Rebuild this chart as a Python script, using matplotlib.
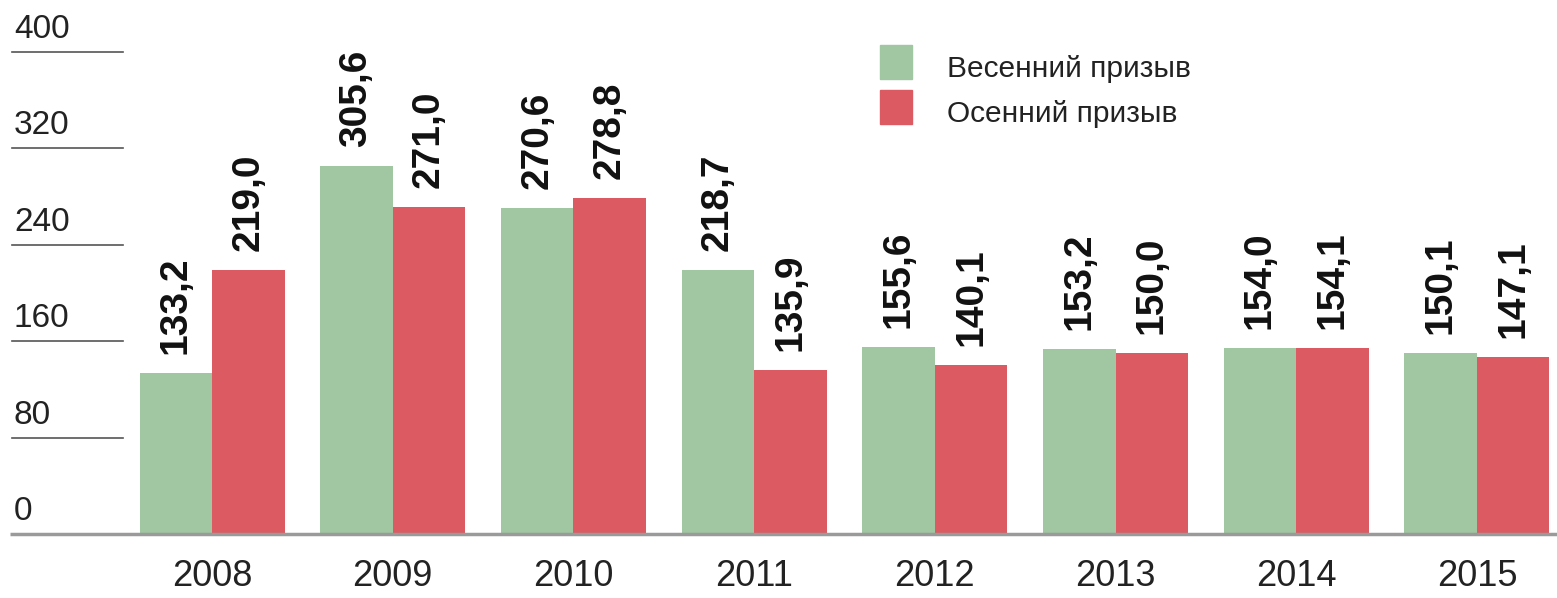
import matplotlib
matplotlib.use("Agg")
import matplotlib.pyplot as plt
import numpy as np

years = ["2008", "2009", "2010", "2011", "2012", "2013", "2014", "2015"]
spring = [133.2, 305.6, 270.6, 218.7, 155.6, 153.2, 154.0, 150.1]
autumn = [219.0, 271.0, 278.8, 135.9, 140.1, 150.0, 154.1, 147.1]
series_names = ["Весенний призыв", "Осенний призыв"]
yticks = [0, 80, 160, 240, 320, 400]

GREEN = "#a0c6a2"
RED = "#dc5a62"
FONT = ["Liberation Sans Narrow", "Liberation Sans", "DejaVu Sans"]
plt.rcParams["font.family"] = FONT

W, H = 1557, 598
fig = plt.figure(figsize=(W / 100, H / 100), dpi=100)
ax = fig.add_axes([0, 0, 1, 1])
ax.set_axis_off()

px_per_group = 180.7
x0_px = 212.0
base_px = 534.0
px_per_unit = 1.205
ax.set_xlim(-x0_px / px_per_group, (W - x0_px) / px_per_group)
ax.set_ylim(-(H - base_px) / px_per_unit, base_px / px_per_unit)

x = np.arange(len(years))
bw = 72.5 / px_per_group
ax.bar(x - bw / 2, spring, width=bw, color=GREEN, zorder=2)
ax.bar(x + bw / 2, autumn, width=bw, color=RED, zorder=2)

gap = 19 / px_per_unit
for xi, s, a in zip(x, spring, autumn):
    for xx, v in ((xi - bw / 2, s), (xi + bw / 2, a)):
        ax.text(xx, v + gap, f"{v:.1f}".replace(".", ","), rotation=90,
                ha="center", va="bottom", fontsize=28, fontweight="bold",
                color="#111111")

# y-axis short lines + labels
ytr = ax.get_yaxis_transform()
for t in yticks[1:]:
    ax.plot([12 / W, 123 / W], [t, t], transform=ytr, color="#555555", lw=1.2,
            zorder=1)
for t in yticks:
    ax.text(14 / W, t + 7 / px_per_unit, str(t), transform=ytr, ha="left",
            va="bottom", fontsize=24, color="#222222")

# baseline
ax.plot([10 / W, 1.0], [0, 0], transform=ytr, color="#9a9a9a", lw=2.5,
        zorder=3, solid_capstyle="butt")

# year labels
for xi, yl in zip(x, years):
    ax.text(xi, -(577 - base_px) / px_per_unit, yl, ha="center",
            va="center", fontsize=26, color="#222222")

# legend
ftr = fig.transFigure
for i, (name, col) in enumerate(zip(series_names, [GREEN, RED])):
    top = 45 + i * 45
    fig.patches.append(plt.Rectangle((880 / W, 1 - (top + 34) / H), 32 / W,
                                     34 / H, transform=ftr, color=col,
                                     figure=fig))
    fig.text(947 / W, 1 - (top + 24) / H, name, ha="left", va="center",
             fontsize=21.5, color="#222222")

fig.savefig("out.png", dpi=100)
